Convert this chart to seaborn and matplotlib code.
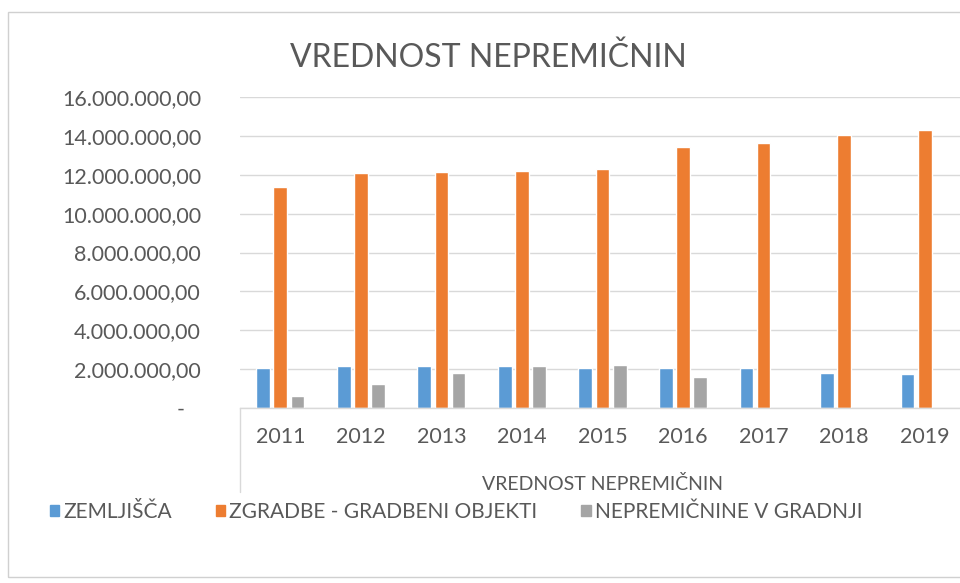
import matplotlib
matplotlib.use("Agg")
import matplotlib.pyplot as plt
import seaborn as sns
import pandas as pd
from matplotlib.patches import Rectangle, Patch
from matplotlib.lines import Line2D
from matplotlib.ticker import FuncFormatter, MultipleLocator

# ---- data ----
years = ["2011", "2012", "2013", "2014", "2015", "2016", "2017", "2018", "2019"]
series_names = ["ZEMLJIŠČA", "ZGRADBE - GRADBENI OBJEKTI", "NEPREMIČNINE V GRADNJI"]
zemljisca = [2050000, 2150000, 2150000, 2150000, 2050000, 2050000, 2050000, 1790000, 1730000]
zgradbe = [11380000, 12100000, 12150000, 12200000, 12300000, 13420000, 13620000, 14040000, 14300000]
v_gradnji = [630000, 1250000, 1790000, 2140000, 2230000, 1570000, 0, 0, 0]
colors = ["#5B9BD5", "#ED7D31", "#A5A5A5"]
title = "VREDNOST NEPREMIČNIN"
x_title = "VREDNOST NEPREMIČNIN"

rows = []
for name, vals in zip(series_names, [zemljisca, zgradbe, v_gradnji]):
    for y, v in zip(years, vals):
        rows.append({"Leto": y, "Serija": name, "Vrednost": v})
df = pd.DataFrame(rows)

sns.set_theme(style="white")
plt.rcParams["font.family"] = ["Lato", "DejaVu Sans"]
txt = "#595959"

W, H = 960, 583
fig = plt.figure(figsize=(W / 100, H / 100), dpi=100)
fig.patch.set_facecolor("white")

# outer frame
fig.add_artist(Rectangle((8 / W, 1 - 577 / H), 1.2, (577 - 12) / H, transform=fig.transFigure,
                         fill=False, edgecolor="#D0D0D0", lw=1.0))

ax = fig.add_axes([240 / W, 1 - 408 / H, 725 / W, (408 - 97) / H])
sns.barplot(data=df, x="Leto", y="Vrednost", hue="Serija", palette=colors,
            hue_order=series_names, order=years, width=0.64, gap=0.2,
            ax=ax, legend=False, saturation=1)

ax.set_ylim(0, 16000000)
ax.yaxis.set_major_locator(MultipleLocator(2000000))

def fmt(v, pos):
    if abs(v) < 1:
        return "-   "
    s = f"{v:,.2f}"
    return s.replace(",", "X").replace(".", ",").replace("X", ".")

ax.yaxis.set_major_formatter(FuncFormatter(fmt))
ax.grid(axis="y", color="#D9D9D9", lw=1.0)
ax.set_axisbelow(True)
for s in ["top", "right", "left"]:
    ax.spines[s].set_visible(False)
ax.spines["bottom"].set_color("#D9D9D9")
ax.spines["bottom"].set_linewidth(1.0)
ax.tick_params(axis="y", length=0, pad=28, labelsize=15.5, labelcolor=txt)
ax.tick_params(axis="x", length=0, pad=14, labelsize=15.5, labelcolor=txt)
ax.set_ylabel("")
ax.set_xlabel(x_title, fontsize=14, color=txt, labelpad=20)

# vertical line of axis field area
fig.add_artist(Line2D([240 / W, 240 / W], [1 - 408 / H, 1 - 492 / H], transform=fig.transFigure,
                      color="#D9D9D9", lw=1.0))

fig.text(488 / W, 1 - 58 / H, title, ha="center", va="center", fontsize=23, color=txt)

handles = [Patch(facecolor=c, edgecolor=c) for c in colors]
fig.legend(handles, series_names, loc="center left", bbox_to_anchor=(50 / W, 1 - 512 / H),
           ncol=3, frameon=False, fontsize=15, labelcolor=txt, handlelength=0.45, handleheight=0.45,
           handletextpad=0.2, columnspacing=2.1, borderpad=0, borderaxespad=0)

fig.savefig("out.png", dpi=100)
